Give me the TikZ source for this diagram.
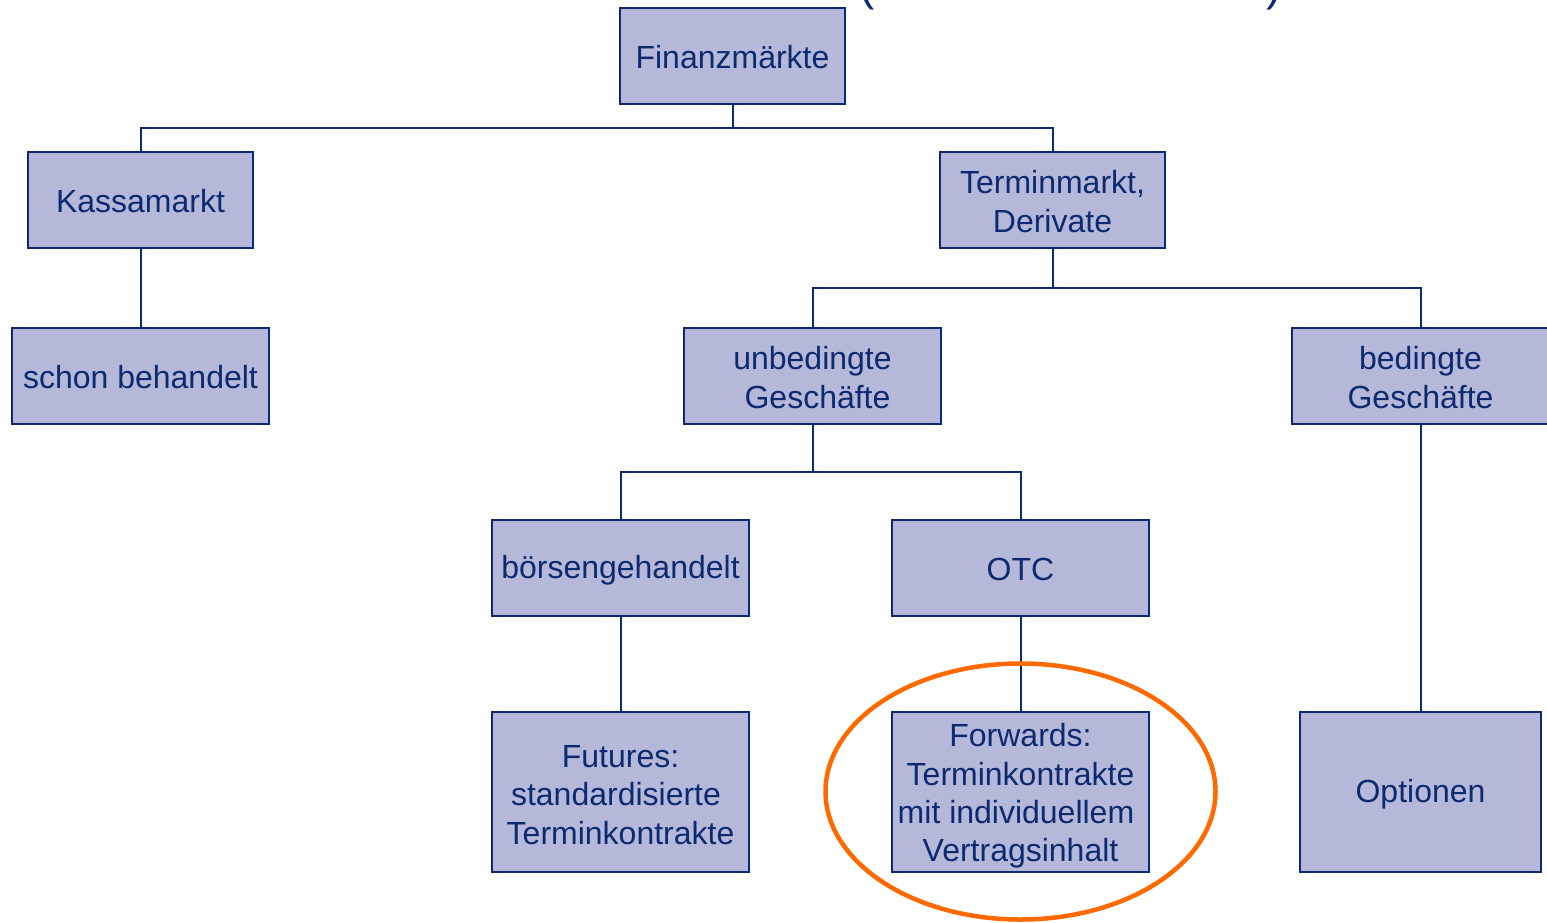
\documentclass[tikz,border=0pt]{standalone}
\usepackage{fontspec}
\setmainfont{Liberation Sans}
\usetikzlibrary{shapes.geometric}
\definecolor{boxfill}{HTML}{B6B8DA}
\definecolor{navy}{HTML}{0B2A6F}
\definecolor{hiorange}{HTML}{FF6A00}
\begin{document}
\begin{tikzpicture}[x=1pt,y=-1pt,
  box/.style={draw=navy,line width=2pt,fill=boxfill,inner sep=0pt},
  txt/.style={text=navy,align=center,font=\fontsize{32}{38.3}\selectfont,inner sep=0pt},
  conn/.style={draw=navy,line width=2pt}]
\clip (0,0) rectangle (1547,922);
\fill[white] (0,0) rectangle (1547,922);
% cropped title parentheses
\node[text=navy,font=\fontsize{46}{50}\selectfont,anchor=base,inner sep=0pt] (lp) at (867,0) {(};
\node[text=navy,font=\fontsize{46}{50}\selectfont,anchor=base,inner sep=0pt] (rp) at (1274,0) {)};
% boxes
\node[box,minimum width=225pt,minimum height=96pt] (fin) at (732.5,56) {};
\node[box,minimum width=225pt,minimum height=96pt] (kas) at (140.5,200) {};
\node[box,minimum width=225pt,minimum height=96pt] (ter) at (1052.5,200) {};
\node[box,minimum width=257pt,minimum height=96pt] (sch) at (140.5,376) {};
\node[box,minimum width=257pt,minimum height=96pt] (unb) at (812.5,376) {};
\node[box,minimum width=257pt,minimum height=96pt] (bed) at (1420.5,376) {};
\node[box,minimum width=257pt,minimum height=96pt] (bor) at (620.5,568) {};
\node[box,minimum width=257pt,minimum height=96pt] (otc) at (1020.5,568) {};
\node[box,minimum width=257pt,minimum height=160pt] (fut) at (620.5,792) {};
\node[box,minimum width=257pt,minimum height=160pt] (fwd) at (1020.5,792) {};
\node[box,minimum width=241pt,minimum height=160pt] (opt) at (1420.5,792) {};
% texts
\node[txt] (fin-t) at ([yshift=-1.5pt]fin.center) {Finanzmärkte};
\node[txt] (kas-t) at ([yshift=-1.5pt]kas.center) {Kassamarkt};
\node[txt] (ter-t) at ([yshift=-1.5pt]ter.center) {Terminmarkt,\\Derivate};
\node[txt] (sch-t) at ([yshift=-1.5pt]sch.center) {schon behandelt};
\node[txt] (unb-t) at ([yshift=-1.5pt]unb.center) {unbedingte\\\hspace*{10pt}Geschäfte};
\node[txt] (bed-t) at ([yshift=-1.5pt]bed.center) {bedingte\\Geschäfte};
\node[txt] (bor-t) at ([yshift=-2pt]bor.center) {börsengehandelt};
\node[txt] (otc-t) at ([yshift=-1.5pt]otc.center) {OTC};
\node[txt] (fut-t) at ([yshift=-3pt]fut.center) {Futures:\\standardisierte\kern9pt\\Terminkontrakte};
\node[txt] (fwd-t) at ([yshift=-4pt]fwd.center) {Forwards:\\Terminkontrakte\\mit individuellem\kern9pt\\Vertragsinhalt};
\node[txt] (opt-t) at ([yshift=-2pt]opt.center) {Optionen};
% connectors
\coordinate (j1) at (732.5,128);
\coordinate (j2) at (1052.5,288);
\coordinate (j3) at (812.5,472);
\draw[conn] (fin.south) -- (j1);
\draw[conn] (j1) -| (kas.north);
\draw[conn] (j1) -| (ter.north);
\draw[conn] (kas.south) -- (sch.north);
\draw[conn] (ter.south) -- (j2);
\draw[conn] (j2) -| (unb.north);
\draw[conn] (j2) -| (bed.north);
\draw[conn] (unb.south) -- (j3);
\draw[conn] (j3) -| (bor.north);
\draw[conn] (j3) -| (otc.north);
\draw[conn] (bor.south) -- (fut.north);
\draw[conn] (otc.south) -- (fwd.north);
\draw[conn] (bed.south) -- (opt.north);
% highlight
\node[draw=hiorange,line width=4.5pt,ellipse,minimum width=390pt,minimum height=256pt,inner sep=0pt] (hl) at (1020.5,791.5) {};
\end{tikzpicture}
\end{document}
